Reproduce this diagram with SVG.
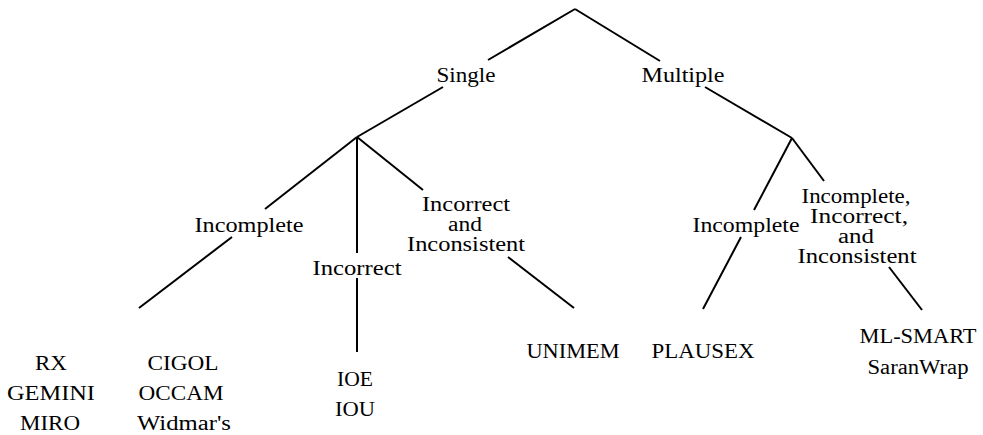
<svg xmlns="http://www.w3.org/2000/svg" width="983" height="435" viewBox="0 0 983 435">
<style>
.t text{font-family:'Liberation Serif','Times New Roman',Times,serif;font-size:20px;fill:#000;text-anchor:middle}
.c line{stroke:#000;stroke-width:2;stroke-linecap:butt}
</style>
<rect width="983" height="435" fill="#fff"/>
<g class="c" id="connectors">
<line x1="575" y1="9" x2="488" y2="60"/>
<line x1="575" y1="9" x2="660" y2="61"/>
<line x1="443" y1="87" x2="357" y2="137"/>
<line x1="705" y1="87" x2="792" y2="138"/>
<line x1="357" y1="137" x2="265" y2="209"/>
<line x1="357" y1="137" x2="357" y2="253"/>
<line x1="357" y1="278" x2="357" y2="352"/>
<line x1="357" y1="137" x2="423" y2="190"/>
<line x1="232" y1="237" x2="139" y2="308"/>
<line x1="508" y1="257" x2="574" y2="308"/>
<line x1="792" y1="138" x2="754" y2="210"/>
<line x1="741" y1="237" x2="703" y2="309"/>
<line x1="792" y1="138" x2="824" y2="181"/>
<line x1="889" y1="267" x2="922" y2="310"/>
</g>
<g class="t">
<g id="single"><text x="466" y="82" textLength="59" lengthAdjust="spacingAndGlyphs">Single</text></g>
<g id="multiple"><text x="683" y="82" textLength="83" lengthAdjust="spacingAndGlyphs">Multiple</text></g>
<g id="s-incomplete"><text x="249" y="232" textLength="109" lengthAdjust="spacingAndGlyphs">Incomplete</text></g>
<g id="s-incorrect"><text x="357" y="275" textLength="89" lengthAdjust="spacingAndGlyphs">Incorrect</text></g>
<g id="s-incorrect-inconsistent">
<text x="466" y="211" textLength="88" lengthAdjust="spacingAndGlyphs">Incorrect</text>
<text x="465" y="231" textLength="34" lengthAdjust="spacingAndGlyphs">and</text>
<text x="466" y="251" textLength="118" lengthAdjust="spacingAndGlyphs">Inconsistent</text>
</g>
<g id="m-incomplete"><text x="746" y="232" textLength="107" lengthAdjust="spacingAndGlyphs">Incomplete</text></g>
<g id="m-all">
<text x="856" y="203" textLength="109" lengthAdjust="spacingAndGlyphs">Incomplete,</text>
<text x="859" y="223" textLength="98" lengthAdjust="spacingAndGlyphs">Incorrect,</text>
<text x="856" y="243" textLength="36" lengthAdjust="spacingAndGlyphs">and</text>
<text x="857" y="263" textLength="119" lengthAdjust="spacingAndGlyphs">Inconsistent</text>
</g>
<g id="leaf-rx">
<text x="51" y="370" textLength="32" lengthAdjust="spacingAndGlyphs">RX</text>
<text x="51" y="400" textLength="88" lengthAdjust="spacingAndGlyphs">GEMINI</text>
<text x="50" y="430" textLength="60" lengthAdjust="spacingAndGlyphs">MIRO</text>
</g>
<g id="leaf-cigol">
<text x="183" y="370" textLength="71" lengthAdjust="spacingAndGlyphs">CIGOL</text>
<text x="181" y="400" textLength="85" lengthAdjust="spacingAndGlyphs">OCCAM</text>
<text x="184" y="430" textLength="94" lengthAdjust="spacingAndGlyphs">Widmar's</text>
</g>
<g id="leaf-ioe">
<text x="355" y="386" textLength="36" lengthAdjust="spacingAndGlyphs">IOE</text>
<text x="355" y="416" textLength="40" lengthAdjust="spacingAndGlyphs">IOU</text>
</g>
<g id="leaf-unimem"><text x="573" y="358" textLength="93" lengthAdjust="spacingAndGlyphs">UNIMEM</text></g>
<g id="leaf-plausex"><text x="703" y="358" textLength="103" lengthAdjust="spacingAndGlyphs">PLAUSEX</text></g>
<g id="leaf-mlsmart">
<text x="918" y="343" textLength="117" lengthAdjust="spacingAndGlyphs">ML-SMART</text>
<text x="918" y="374" textLength="101" lengthAdjust="spacingAndGlyphs">SaranWrap</text>
</g>
</g>
</svg>
